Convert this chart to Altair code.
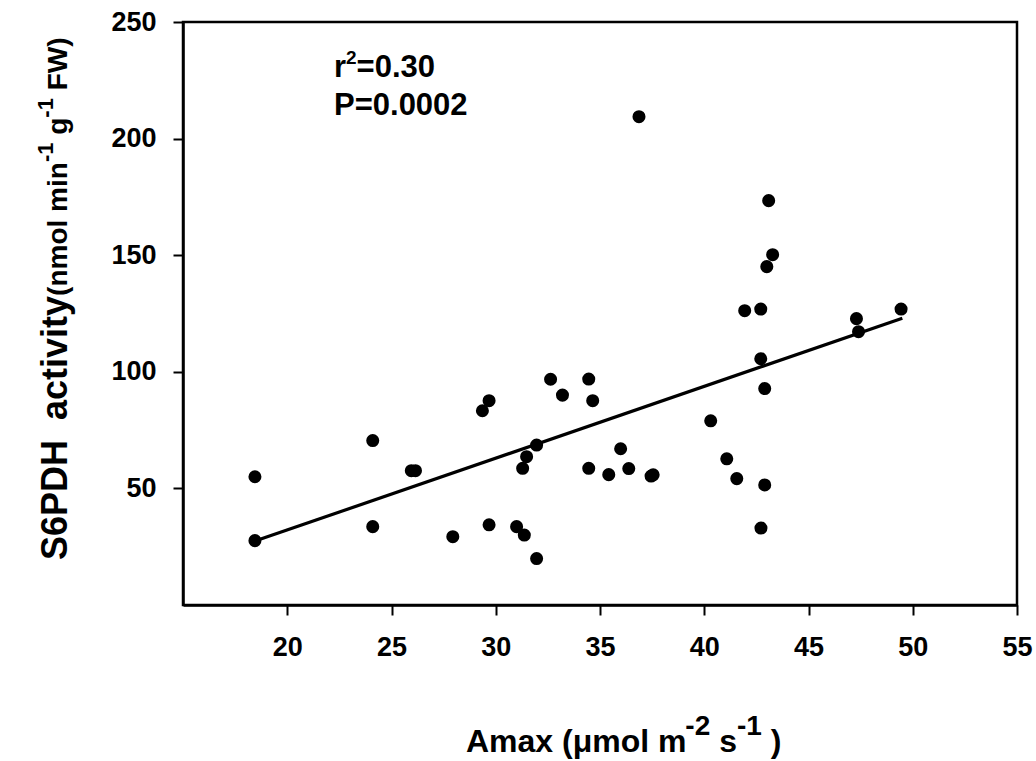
import altair as alt
import pandas as pd

# ---- data ----
amax = [18.45, 18.45, 24.1, 24.1, 25.95, 26.15, 27.94, 29.36, 29.68, 29.68,
        31.0, 31.37, 31.48, 31.29, 31.96, 31.96, 32.63, 33.2, 34.46, 34.65,
        34.46, 36.87, 43.09, 43.28, 43.0, 41.94, 42.71, 47.3, 47.4, 49.44,
        42.71, 42.9, 40.31, 35.99, 35.42, 36.38, 37.45, 37.55, 41.08, 41.56,
        42.9, 42.72]
s6pdh = [55.0, 27.6, 70.5, 33.6, 57.6, 57.6, 29.3, 83.3, 87.6, 34.4,
         33.6, 30.0, 63.6, 58.6, 68.6, 19.9, 96.8, 90.0, 96.9, 87.6,
         58.6, 209.4, 173.4, 150.2, 145.1, 126.2, 126.9, 122.8, 117.2, 126.9,
         105.6, 92.8, 79.0, 67.0, 55.9, 58.5, 55.3, 55.8, 62.7, 54.2,
         51.5, 33.0]
fit_amax = [18.45, 49.5]
fit_s6pdh = [27.4, 123.0]
x_ticks = [20, 25, 30, 35, 40, 45, 50, 55]
y_ticks = [50, 100, 150, 200, 250]
x_title_parts = [("Amax (μmol m", "main"), ("-2", "sup"), (" s", "main"), ("-1", "sup"), (" )", "main")]
y_title_parts = [("S6PDH", "big"), ("  activity", "big"), ("(nmol min", "main"), ("-1", "sup"),
                 (" g", "main"), ("-1", "sup"), (" FW)", "main")]
r2_parts = [("r", "main"), ("2", "sup"), ("=0.30", "main")]
p_text = "P=0.0002"

FONT = "Liberation Sans"
W, H = 834, 583
PL, PT = 183, 22

# Arial/Liberation Sans Bold advance widths (em)
AW = {' ': .278, '(': .333, ')': .333, '-': .333, '.': .278, '=': .584,
      'A': .722, 'D': .722, 'F': .611, 'H': .722, 'P': .667, 'S': .667, 'W': .944,
      'a': .556, 'c': .556, 'g': .611, 'i': .278, 'l': .278, 'm': .889, 'n': .611,
      'o': .611, 'r': .389, 's': .556, 't': .333, 'v': .556, 'x': .556, 'y': .556, 'μ': .576}
for d in "0123456789":
    AW[d] = .556


def tw(s, fs):
    return sum(AW.get(c, .556) for c in s) * fs


def text_layer(s, x, y, fs, angle=0):
    return alt.Chart(pd.DataFrame({"t": [s]})).mark_text(
        align="left", baseline="alphabetic", font=FONT, fontWeight="bold",
        fontSize=fs, color="black", angle=angle
    ).encode(x=alt.value(x), y=alt.value(y), text="t:N")


def compose(parts, start, base, sizes, shifts, vertical=False):
    layers = []
    cur = start
    for txt, role in parts:
        fs = sizes[role]
        core = txt.strip(' ')
        lead = len(txt) - len(txt.lstrip(' '))
        trail = len(txt) - len(txt.rstrip(' '))
        step = lead * AW[' '] * fs
        cur = cur - step if vertical else cur + step
        if vertical:
            layers.append(text_layer(core, base - shifts[role], cur, fs, angle=270))
            cur -= tw(core, fs) + trail * AW[' '] * fs
        else:
            layers.append(text_layer(core, cur, base - shifts[role], fs))
            cur += tw(core, fs) + trail * AW[' '] * fs
    return layers


df = pd.DataFrame({"amax": amax, "s6pdh": s6pdh})
fit = pd.DataFrame({"amax": fit_amax, "s6pdh": fit_s6pdh})

xscale = alt.Scale(domain=[15, 55], nice=False, zero=False)
yscale = alt.Scale(domain=[0, 250], nice=False, zero=False)

axis_common = dict(
    title=None, grid=False, domainColor="black", domainWidth=2.5,
    tickColor="black", tickWidth=2, tickSize=10, labelFont=FONT,
    labelFontWeight="bold", labelFontSize=27, labelColor="black", labelFlush=False,
)

points = alt.Chart(df).mark_circle(size=170, color="black", opacity=1).encode(
    x=alt.X("amax:Q", scale=xscale, axis=alt.Axis(values=x_ticks, labelPadding=19, **axis_common)),
    y=alt.Y("s6pdh:Q", scale=yscale, axis=alt.Axis(values=y_ticks, labelPadding=17, **axis_common)),
)

line = alt.Chart(fit).mark_line(color="black", strokeWidth=3.2).encode(
    x=alt.X("amax:Q", scale=xscale),
    y=alt.Y("s6pdh:Q", scale=yscale),
)

layers = [points, line]
# x-axis title
layers += compose(x_title_parts, 466 - PL, 752 - PT, {"main": 32, "sup": 28}, {"main": 0, "sup": 17})
# y-axis title (rotated)
layers += compose(y_title_parts, 560 - PT, 67 - PL, {"big": 36, "main": 28, "sup": 22},
                  {"big": 0, "main": 0, "sup": 14}, vertical=True)
# annotation
layers += compose(r2_parts, 334 - PL, 77 - PT, {"main": 31, "sup": 19}, {"main": 0, "sup": 13})
layers.append(text_layer(p_text, 334 - PL, 115 - PT, 31))

chart = alt.layer(*layers).properties(
    width=W, height=H,
    autosize=alt.AutoSizeParams(type="none"),
    padding={"left": PL, "top": PT, "right": 1036 - PL - W, "bottom": 761 - PT - H},
    background="white",
).configure_view(stroke="black", strokeWidth=2.5)

chart.save("out.html", embed_options={"renderer": "svg", "actions": False})
